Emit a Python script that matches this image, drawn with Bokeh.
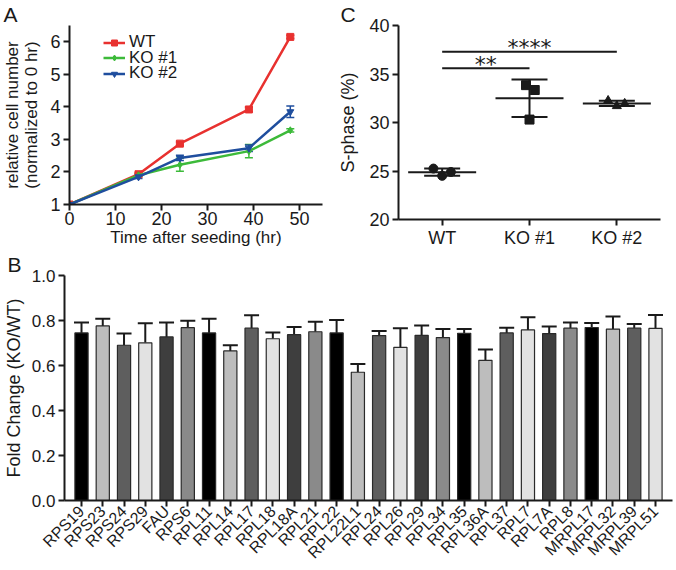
import numpy as np
from bokeh.plotting import figure
from bokeh.layouts import column, row
from bokeh.models import (ColumnDataSource, Whisker, TeeHead, Legend, LegendItem,
                          FactorRange, FixedTicker, NumeralTickFormatter, Range1d)
from bokeh.core.properties import value
from bokeh.embed import file_html
from bokeh.resources import INLINE

FONT = "Liberation Sans"
TXT = "#1a1a1a"

# ---------------- Panel A data ----------------
hours = [0, 15, 24, 39, 48]
wt_growth = [1.0, 1.93, 2.87, 3.92, 6.15]
wt_err = [0.02, 0.04, 0.05, 0.07, 0.05]
ko1_growth = [1.0, 1.9, 2.22, 2.64, 3.28]
ko1_err = [0.02, 0.05, 0.2, 0.2, 0.05]
ko2_growth = [1.0, 1.85, 2.43, 2.73, 3.85]
ko2_err = [0.02, 0.05, 0.08, 0.1, 0.18]
a_series = ["WT", "KO #1", "KO #2"]

# ---------------- Panel C data ----------------
c_groups = ["WT", "KO #1", "KO #2"]
wt_sphase = [25.25, 24.5, 24.9]
ko1_sphase = [33.85, 30.3, 33.35]
ko2_sphase = [32.25, 31.7, 31.95]
sig_pairs = [("WT", "KO #1"), ("WT", "KO #2")]
sig_labels = ["**", "****"]
sig_heights = [35.6, 37.3]

# ---------------- Panel B data ----------------
genes = ["RPS19", "RPS23", "RPS24", "RPS29", "FAU", "RPS6", "RPL11", "RPL14", "RPL17",
         "RPL18", "RPL18A", "RPL21", "RPL22", "RPL22L1", "RPL24", "RPL26", "RPL29",
         "RPL34", "RPL35", "RPL36A", "RPL37", "RPL7", "RPL7A", "RPL8", "MRPL17",
         "MRPL32", "MRPL39", "MRPL51"]
fold_change = [0.745, 0.776, 0.690, 0.701, 0.727, 0.768, 0.745, 0.665, 0.766,
               0.719, 0.737, 0.750, 0.745, 0.570, 0.733, 0.681, 0.734,
               0.724, 0.743, 0.623, 0.745, 0.758, 0.742, 0.766, 0.769,
               0.762, 0.766, 0.765]
fold_err = [0.046, 0.032, 0.052, 0.087, 0.064, 0.031, 0.063, 0.025, 0.057,
            0.028, 0.034, 0.045, 0.057, 0.037, 0.020, 0.085, 0.044,
            0.038, 0.019, 0.048, 0.023, 0.056, 0.031, 0.025, 0.020,
            0.056, 0.019, 0.059]

bar_palette = ["#000000", "#bdbdbd", "#5e5e5e", "#e2e2e2", "#3e3e3e", "#8a8a8a"]


def style(p, tick_size, label_size):
    p.grid.visible = False
    p.outline_line_color = None
    p.background_fill_color = "white"
    p.border_fill_color = "white"
    for ax in p.axis:
        ax.axis_line_width = 2
        ax.axis_line_color = TXT
        ax.major_tick_line_width = 2
        ax.major_tick_line_color = TXT
        ax.major_tick_out = 6
        ax.major_tick_in = 0
        ax.minor_tick_out = 0
        ax.minor_tick_in = 0
        ax.major_label_text_font = FONT
        ax.major_label_text_font_size = tick_size
        ax.major_label_text_color = TXT
        ax.major_label_standoff = 3
        ax.axis_label_text_font = FONT
        ax.axis_label_text_font_style = "normal"
        ax.axis_label_text_font_size = label_size
        ax.axis_label_text_color = TXT


def panel_letter(p, text, offset, line_height=1.0):
    p.title.text = text
    p.title.align = "left"
    p.title.offset = offset
    p.title.standoff = 0
    p.title.text_font = FONT
    p.title.text_font_style = "normal"
    p.title.text_font_size = "21px"
    p.title.text_line_height = line_height
    p.title.text_color = TXT


# ================= Panel A =================
pA = figure(width=330, height=250, x_range=Range1d(0, 55), y_range=Range1d(1, 6.5),
            output_backend="svg", toolbar_location=None,
            min_border_left=68, min_border_right=8, min_border_top=0, min_border_bottom=46)
style(pA, "18px", "17px")
pA.xaxis.ticker = FixedTicker(ticks=[0, 10, 20, 30, 40, 50])
pA.yaxis.ticker = FixedTicker(ticks=[1, 2, 3, 4, 5, 6])
pA.xaxis.axis_label = "Time after seeding (hr)"
pA.yaxis.axis_label = "relative cell number\n(normalized to 0 hr)"
pA.yaxis.axis_label_text_line_height = 1.0
pA.xaxis.major_label_standoff = 1
pA.xaxis.axis_label_standoff = 0
pA.yaxis.axis_label_standoff = 6

a_colors = ["#e8312f", "#3dba3a", "#1f4e9e"]
a_markers = ["square", "diamond", "inverted_triangle"]
a_vals = [wt_growth, ko1_growth, ko2_growth]
a_errs = [wt_err, ko1_err, ko2_err]
for i, (name, col, mk, vals, errs) in enumerate(zip(a_series, a_colors, a_markers, a_vals, a_errs)):
    vals = np.array(vals)
    errs = np.array(errs)
    src = ColumnDataSource(dict(x=hours, y=vals, lo=vals - errs, hi=vals + errs))
    ln = pA.line("x", "y", source=src, line_color=col, line_width=2.5)
    sc = pA.scatter("x", "y", source=src, marker=mk, size=7, fill_color=col, line_color=col)
    pA.add_layout(Whisker(base="x", lower="lo", upper="hi", source=src, line_color=col,
                          line_width=1.5,
                          lower_head=TeeHead(size=8, line_color=col, line_width=1.5),
                          upper_head=TeeHead(size=8, line_color=col, line_width=1.5)))
    leg = Legend(items=[LegendItem(label=name, renderers=[ln, sc])],
                 location=(34, 152 - 15.5 * i), border_line_color=None,
                 background_fill_alpha=0, padding=0, margin=0, spacing=0,
                 glyph_width=22, glyph_height=15, label_standoff=4,
                 label_text_font=FONT, label_text_font_size="17px", label_text_color=TXT)
    pA.add_layout(leg)
panel_letter(pA, "A", -66)

# ================= Panel C =================
pC = figure(width=346, height=250, x_range=FactorRange(factors=c_groups, range_padding=0),
            y_range=Range1d(20, 40), output_backend="svg", toolbar_location=None,
            min_border_left=68, min_border_right=16, min_border_top=0, min_border_bottom=27)
style(pC, "18px", "18px")
pC.yaxis.ticker = FixedTicker(ticks=[20, 25, 30, 35, 40])
pC.yaxis.axis_label = "S-phase (%)"
pC.yaxis.axis_label_standoff = 8
pC.xaxis.major_label_standoff = 2

c_vals = [wt_sphase, ko1_sphase, ko2_sphase]
c_markers = ["circle", "square", "triangle"]
c_jitter = [[-0.1, 0.0, 0.1], [-0.04, 0.0, 0.06], [-0.1, 0.0, 0.09]]
means, los, his = [], [], []
for g, vals, mk, jit in zip(c_groups, c_vals, c_markers, c_jitter):
    pC.scatter(x=[(g, j) for j in jit], y=vals, marker=mk, size=9,
               fill_color=TXT, line_color=TXT)
    m = float(np.mean(vals))
    s = float(np.std(vals, ddof=1))
    means.append(m)
    los.append(m - s)
    his.append(m + s)
csrc = ColumnDataSource(dict(x=c_groups, m=means, lo=los, hi=his))
pC.scatter("x", "m", source=csrc, marker="dash", size=68, line_color=TXT, line_width=2)
pC.add_layout(Whisker(base="x", lower="lo", upper="hi", source=csrc, line_color=TXT,
                      line_width=2,
                      lower_head=TeeHead(size=36, line_color=TXT, line_width=2),
                      upper_head=TeeHead(size=36, line_color=TXT, line_width=2)))
for (g0, g1), lab, h in zip(sig_pairs, sig_labels, sig_heights):
    i0, i1 = c_groups.index(g0), c_groups.index(g1)
    mid = (i0 + i1) / 2
    mf = c_groups[int(mid)]
    pC.segment(x0=[g0], y0=[h], x1=[g1], y1=[h], line_color=TXT, line_width=2)
    pC.text(x=[(mf, mid - int(mid))], y=[h], text=[lab], text_align="center",
            text_baseline="middle", y_offset=-4, text_font=value("DejaVu Sans"),
            text_font_size="22px", text_color=TXT)
panel_letter(pC, "C", -58)

# ================= Panel B =================
pB = figure(width=676, height=320,
            x_range=FactorRange(factors=genes, range_padding=0.3, range_padding_units="absolute"),
            y_range=Range1d(0, 1.0), output_backend="svg", toolbar_location=None,
            min_border_left=60, min_border_right=4, min_border_top=0, min_border_bottom=64)
style(pB, "17px", "18px")
pB.yaxis.ticker = FixedTicker(ticks=[0, 0.2, 0.4, 0.6, 0.8, 1.0])
pB.yaxis.formatter = NumeralTickFormatter(format="0.0")
pB.yaxis.axis_label = "Fold Change (KO/WT)"
pB.yaxis.axis_label_standoff = 5
pB.xaxis.major_label_orientation = np.pi / 4
pB.xaxis.major_label_text_font_size = "16px"
pB.xaxis.major_label_standoff = 2

fv = np.array(fold_change)
fe = np.array(fold_err)
bcolors = [bar_palette[i % len(bar_palette)] for i in range(len(genes))]
bsrc = ColumnDataSource(dict(x=genes, top=fv, hi=fv + fe, color=bcolors))
pB.vbar(x="x", top="top", width=0.62, source=bsrc, fill_color="color",
        line_color="#2a2a2a", line_width=1.2)
pB.add_layout(Whisker(base="x", lower="top", upper="hi", source=bsrc, line_color=TXT,
                      line_width=2, lower_head=None,
                      upper_head=TeeHead(size=15, line_color=TXT, line_width=2)))
panel_letter(pB, "B", -57, line_height=0.7)

layout = column(row(column(pA), column(pC)), pB)
open("out.html", "w").write(file_html(layout, INLINE))
